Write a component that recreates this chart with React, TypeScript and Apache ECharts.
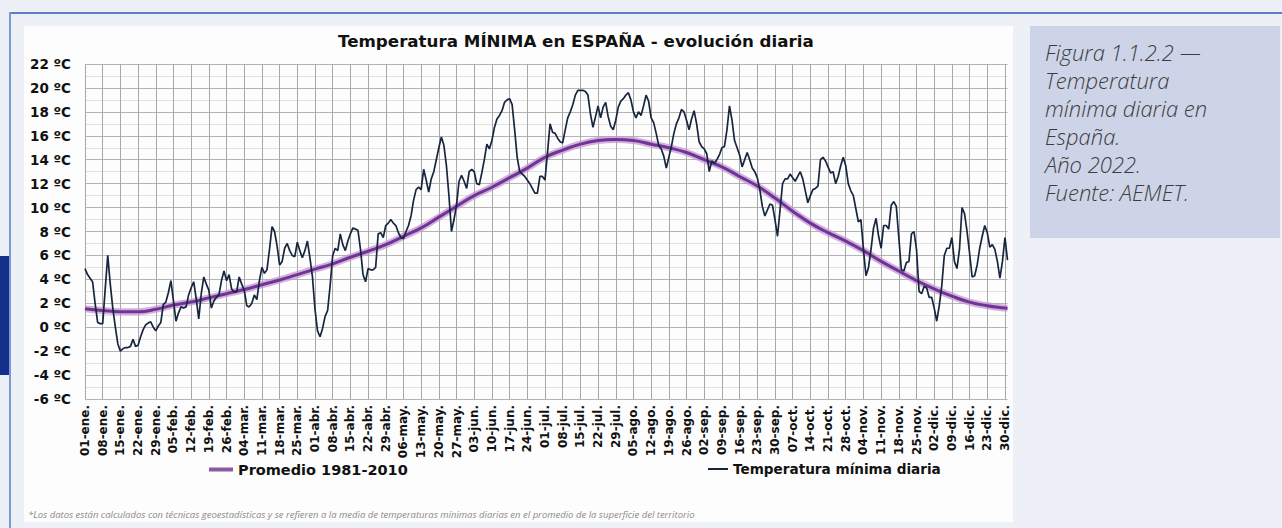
import React, { useEffect, useRef } from "react";
import * as echarts from "echarts";

// ---- categories (template year with 29-feb, as on the original axis) ----
const monthNames = ["ene", "feb", "mar", "abr", "may", "jun", "jul", "ago", "sep", "oct", "nov", "dic"];
const monthDays = [31, 29, 31, 30, 31, 30, 31, 31, 30, 31, 30, 31];

// ---- tick labels (every 7 days) ----
const weekLabels = [
  "01-ene.", "08-ene.", "15-ene.", "22-ene.", "29-ene.", "05-feb.", "12-feb.", "19-feb.", "26-feb.",
  "04-mar.", "11-mar.", "18-mar.", "25-mar.", "01-abr.", "08-abr.", "15-abr.", "22-abr.", "29-abr.",
  "06-may.", "13-may.", "20-may.", "27-may.", "03-jun.", "10-jun.", "17-jun.", "24-jun.", "01-jul.",
  "08-jul.", "15-jul.", "22-jul.", "29-jul.", "05-ago.", "12-ago.", "19-ago.", "26-ago.", "02-sep.",
  "09-sep.", "16-sep.", "23-sep.", "30-sep.", "07-oct.", "14-oct.", "21-oct.", "28-oct.", "04-nov.",
  "11-nov.", "18-nov.", "25-nov.", "02-dic.", "09-dic.", "16-dic.", "23-dic.", "30-dic.",
];

// ---- Promedio 1981-2010 (read at the weekly ticks + 31-dic) ----
const avgDays = [...weekLabels, "31-dic."];
const avgValues = [
  1.55, 1.4, 1.3, 1.3, 1.5, 1.85, 2.1, 2.45, 2.8,
  3.15, 3.55, 3.95, 4.4, 4.85, 5.3, 5.85, 6.35, 6.9,
  7.6, 8.3, 9.2, 10.1, 11.0, 11.7, 12.5, 13.3, 14.2,
  14.8, 15.3, 15.6, 15.7, 15.6, 15.3, 15.0, 14.6, 14.0,
  13.4, 12.6, 11.8, 10.8, 9.7, 8.7, 7.9, 7.2, 6.4,
  5.5, 4.7, 3.9, 3.2, 2.6, 2.1, 1.8, 1.6, 1.58,
];

// ---- Temperatura mínima diaria 2022 (one value per day, 01-ene .. 31-dic) ----
const dailyMin = [
  // ene
  4.9, 4.4, 4.1, 3.8, 2.0, 0.4, 0.3, 0.3, 3.2, 6.0,
  3.6, 1.6, 0.0, -1.4, -2.0, -1.8, -1.7, -1.7, -1.6, -1.0,
  -1.6, -1.5, -0.8, -0.2, 0.2, 0.35, 0.45, 0.0, -0.3, 0.1,
  0.4,
  // feb
  1.9, 2.1, 2.9, 3.9, 2.2, 0.5, 1.2, 1.7, 1.6,
  1.7, 2.7, 3.3, 3.8, 2.4, 0.7, 2.8, 4.2, 3.6, 3.1,
  1.6, 2.2, 2.5, 2.7, 3.9, 4.7, 3.9, 4.4, 3.2,
  // 29-feb (template) + mar
  2.95,
  2.95, 4.2, 3.6, 3.1, 1.8, 1.7, 2.0, 2.7, 2.3, 3.9,
  5.0, 4.5, 4.8, 6.5, 8.4, 8.0, 6.8, 5.2, 5.5, 6.6,
  7.0, 6.4, 6.0, 5.9, 7.1, 6.4, 5.8, 6.4, 7.2, 5.8,
  4.2,
  // abr
  1.5, -0.3, -0.8, -0.1, 0.9, 1.4, 3.5, 6.0, 6.6,
  6.4, 7.8, 6.9, 6.4, 7.2, 7.8, 8.3, 8.2, 8.1, 6.5,
  4.4, 3.8, 4.9, 4.8, 4.8, 5.0, 7.8, 7.9, 7.5, 8.5,
  8.7,
  // may
  9.0, 8.7, 8.5, 7.9, 7.5, 7.4, 8.0, 8.5, 9.3,
  10.6, 11.5, 11.7, 11.5, 13.2, 12.3, 11.3, 12.4, 13.0, 14.0,
  15.0, 15.9, 15.2, 13.5, 11.0, 8.0, 9.0, 10.2, 12.2, 12.7,
  12.2, 11.6,
  // jun
  13.0, 13.2, 13.0, 12.0, 11.9, 12.9, 14.0, 15.3,
  14.9, 15.6, 16.7, 17.4, 17.7, 18.1, 18.8, 19.0, 19.1, 18.6,
  16.5, 14.2, 13.0, 12.8, 12.6, 12.3, 12.0, 11.6, 11.2, 11.2,
  // jul
  12.6, 12.6, 12.3, 14.6, 17.0, 16.3, 16.2, 15.8, 15.5, 15.4,
  16.5, 17.5, 18.0, 18.6, 19.4, 19.8, 19.8, 19.8, 19.7, 19.4,
  17.8, 16.7, 17.6, 18.5, 17.5, 18.4, 18.8, 17.6, 16.8, 16.5,
  17.3,
  // ago
  18.4, 18.9, 19.1, 19.4, 19.6, 19.0, 18.0, 17.5, 18.0,
  17.7, 18.5, 19.4, 18.9, 17.5, 17.1, 16.2, 15.2, 14.9, 14.3,
  13.3, 14.2, 15.1, 16.2, 17.0, 17.5, 18.2, 18.0, 17.3, 16.5,
  17.4, 18.1,
  // sep
  17.0, 15.5, 15.1, 14.9, 14.5, 13.0, 13.9, 13.7,
  14.0, 14.4, 15.0, 15.1, 16.5, 18.5, 17.3, 15.6, 15.0, 14.4,
  13.4, 14.0, 14.6, 14.0, 13.3, 13.0, 12.5, 11.5, 10.1, 9.3,
  // oct
  9.8, 10.3, 10.2, 9.0, 7.6, 9.8, 12.0, 12.4, 12.4, 12.8,
  12.5, 12.2, 12.6, 13.0, 12.4, 11.4, 10.4, 11.0, 11.5, 11.6,
  11.8, 14.0, 14.2, 13.9, 13.4, 12.9, 13.0, 12.0, 12.6, 13.5,
  14.2,
  // nov
  13.5, 12.0, 11.4, 11.0, 9.9, 8.8, 9.0, 6.5, 4.3,
  5.0, 6.5, 8.3, 9.1, 7.6, 6.6, 8.5, 8.5, 8.2, 10.2,
  10.5, 10.1, 7.5, 4.8, 4.7, 5.4, 5.5, 7.8, 8.0, 6.5,
  3.0,
  // dic
  2.8, 3.4, 3.3, 2.5, 2.5, 1.6, 0.5, 1.8, 3.5,
  6.0, 6.6, 6.6, 7.5, 5.5, 4.9, 6.5, 10.0, 9.5, 8.0,
  6.2, 4.2, 4.3, 5.2, 6.6, 7.6, 8.5, 7.9, 6.7, 6.9,
  6.5, 5.5, 4.1, 5.5, 7.5, 5.6,
];

const captionLines = [
  "Figura 1.1.2.2 —",
  "Temperatura",
  "mínima diaria en",
  "España.",
  "Año 2022.",
  "Fuente: AEMET.",
];

const footnote =
  "*Los datos están calculados con técnicas geoestadísticas y se refieren a la media de temperaturas mínimas diarias en el promedio de la superficie del territorio";

const BOLD = "'DejaVu Sans', Verdana, sans-serif";

export default function App() {
  const ref = useRef<HTMLDivElement>(null);

  useEffect(() => {
    document.body.style.margin = "0";
    if (!ref.current) return;
    const chart = echarts.init(ref.current, undefined, { renderer: "svg" });

    const days: string[] = [];
    monthNames.forEach((m, k) => {
      for (let d = 1; d <= monthDays[k]; d++) days.push(`${String(d).padStart(2, "0")}-${m}.`);
    });
    const weekSet = new Set(weekLabels);
    const isWeek = (i: number) => weekSet.has(days[i]);

    const avgData = avgDays.map((d, k) => [d, avgValues[k]]);

    chart.setOption({
      animation: false,
      backgroundColor: "transparent",
      title: {
        text: "Temperatura MÍNIMA en ESPAÑA - evolución diaria",
        left: 338,
        top: 32,
        padding: 0,
        textStyle: { fontFamily: BOLD, fontWeight: "bold", fontSize: 16.7, color: "#111" },
      },
      grid: {
        left: 85,
        right: 274.5,
        top: 64,
        bottom: 129,
        outerBoundsMode: "none",
        containLabel: false,
      },
      legend: [
        {
          data: ["Promedio 1981-2010"],
          left: 204,
          top: 457,
          icon: "rect",
          itemWidth: 24,
          itemHeight: 4,
          itemGap: 2,
          textStyle: { fontFamily: BOLD, fontWeight: "bold", fontSize: 14.5, color: "#111" },
        },
        {
          data: ["Temperatura mínima diaria"],
          left: 703,
          top: 457,
          icon: "rect",
          itemWidth: 20,
          itemHeight: 2,
          textStyle: { fontFamily: BOLD, fontWeight: "bold", fontSize: 13.6, color: "#111" },
        },
      ],
      xAxis: {
        type: "category",
        data: days,
        boundaryGap: false,
        axisLine: { show: false },
        axisTick: { show: false },
        axisLabel: {
          interval: (i: number) => isWeek(i),
          rotate: 90,
          margin: 6,
          fontFamily: BOLD,
          fontWeight: "bold",
          fontSize: 12,
          color: "#111",
        },
        splitLine: {
          show: true,
          interval: (i: number) => isWeek(i),
          lineStyle: { color: "#a8a8a8", width: 1 },
        },
      },
      yAxis: {
        type: "value",
        min: -6,
        max: 22,
        interval: 2,
        axisLine: { show: false },
        axisTick: { show: false },
        minorTick: { show: false, splitNumber: 2 },
        minorSplitLine: { show: true, lineStyle: { color: "#e2e2e2", width: 1 } },
        splitLine: { show: true, lineStyle: { color: "#b4b4b4", width: 1 } },
        axisLabel: {
          formatter: "{value} ºC",
          margin: 14,
          fontFamily: BOLD,
          fontWeight: "bold",
          fontSize: 13.5,
          color: "#111",
        },
      },
      series: [
        {
          name: "halo",
          type: "line",
          data: avgData,
          smooth: true,
          symbol: "none",
          silent: true,
          lineStyle: { color: "rgba(196,150,214,0.75)", width: 7 },
          z: 2,
        },
        {
          name: "Promedio 1981-2010",
          type: "line",
          data: avgData,
          smooth: true,
          symbol: "none",
          lineStyle: { color: "#6e3592", width: 3 },
          itemStyle: { color: "#8a5aa3" },
          z: 3,
        },
        {
          name: "Temperatura mínima diaria",
          type: "line",
          data: dailyMin,
          symbol: "none",
          lineStyle: { color: "#17263f", width: 1.7 },
          itemStyle: { color: "#17263f" },
          z: 4,
        },
      ],
      graphic: [
        ...captionLines.map((t, k) => ({
          type: "text",
          left: 1045,
          top: 41 + k * 28,
          style: {
            text: t,
            font: "italic 300 22px 'Open Sans', 'Noto Sans', sans-serif",
            fill: "#3c3c3c",
          },
        })),
        {
          type: "text",
          left: 28,
          top: 509,
          style: {
            text: footnote,
            font: "italic 9.5px 'Open Sans', 'Noto Sans', sans-serif",
            fill: "#8a8a8a",
          },
        },
      ],
    });

    return () => chart.dispose();
  }, []);

  return (
    <div style={{ position: "fixed", left: 0, top: 0, width: 1282, height: 528, background: "#eef0f8", overflow: "hidden" }}>
      {/* top and left blue rules */}
      <div style={{ position: "absolute", left: 10, top: 12, width: 1272, height: 2, background: "#5b7fc4" }} />
      <div style={{ position: "absolute", left: 9, top: 12, width: 2, height: 516, background: "#7d98d2" }} />
      {/* navy tab on the left */}
      <div style={{ position: "absolute", left: 0, top: 256, width: 9, height: 119, background: "#12308a" }} />
      {/* white chart panel */}
      <div style={{ position: "absolute", left: 24, top: 26, width: 989, height: 496, background: "#fdfdfd" }} />
      {/* caption box */}
      <div style={{ position: "absolute", left: 1030, top: 26, width: 250, height: 212, background: "#cdd4e8" }} />
      <div ref={ref} style={{ position: "absolute", left: 0, top: 0, width: 1282, height: 528 }} />
    </div>
  );
}
